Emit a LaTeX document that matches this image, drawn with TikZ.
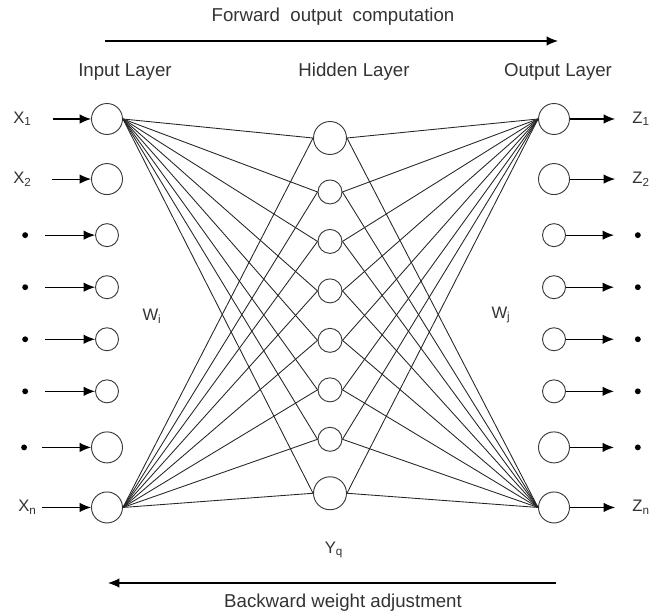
\documentclass[tikz,border=0pt]{standalone}
\usepackage{fontspec}
\setmainfont{Liberation Sans}
\usepackage{tikz}
\usetikzlibrary{arrows.meta,positioning}
\definecolor{neuEdge}{HTML}{3A3A3A}
\definecolor{wireCol}{HTML}{262626}
\tikzset{
  neuron/.style={draw=neuEdge, circle, line width=0.7pt, inner sep=0pt, minimum size=#1},
  bigneu/.style={neuron=23.25pt},
  smallneu/.style={neuron=17.25pt},
  hidbig/.style={neuron=24.75pt},
  hidsmall/.style={neuron=18pt},
  varlbl/.style={font=\fontsize{12.5}{14}\selectfont, inner sep=1pt, text=black!80},
  dotn/.style={circle, fill=black, inner sep=0pt, minimum size=4.4pt},
  ttl/.style={font=\fontsize{14}{16}\selectfont, inner sep=1pt, text=black!80},
  sig/.style={-{Latex[length=8.5pt,width=7pt]}, line width=0.8pt},
  wire/.style={line width=0.65pt, wireCol},
}

\begin{document}
\begin{tikzpicture}[x=0.75pt, y=-0.75pt, node distance=21.1pt]
  \useasboundingbox (0,0) rectangle (650,616);
  % input layer
  \node[bigneu] (in1) at (107,119) {};
  \node[bigneu, below=of in1] (in2) {};
  \node[smallneu, below=of in2] (in3) {};
  \node[smallneu, below=of in3] (in4) {};
  \node[smallneu, below=of in4] (in5) {};
  \node[smallneu, below=of in5] (in6) {};
  \node[bigneu, below=of in6] (in7) {};
  \node[bigneu, below=of in7] (in8) {};
  % hidden layer
  \node[hidbig] (h1) at (330,138) {};
  \node[hidsmall, below=18.4pt of h1] (h2) {};
  \node[hidsmall, below=18.4pt of h2] (h3) {};
  \node[hidsmall, below=18.4pt of h3] (h4) {};
  \node[hidsmall, below=18.4pt of h4] (h5) {};
  \node[hidsmall, below=18.4pt of h5] (h6) {};
  \node[hidsmall, below=18.4pt of h6] (h7) {};
  \node[hidbig, below=18.4pt of h7] (h8) {};
  % output layer
  \node[bigneu] (out1) at (554,119) {};
  \node[bigneu, below=of out1] (out2) {};
  \node[smallneu, below=of out2] (out3) {};
  \node[smallneu, below=of out3] (out4) {};
  \node[smallneu, below=of out4] (out5) {};
  \node[smallneu, below=of out5] (out6) {};
  \node[bigneu, below=of out6] (out7) {};
  \node[bigneu, below=of out7] (out8) {};
  % inputs
  \node[varlbl, left=43.4pt of in1] (x1) {X\textsubscript{1}};
  \node[varlbl, left=43.4pt of in2] (x2) {X\textsubscript{2}};
  \node[dotn, left=50pt of in3] (xd3) {};
  \node[dotn, left=50pt of in4] (xd4) {};
  \node[dotn, left=50pt of in5] (xd5) {};
  \node[dotn, left=50pt of in6] (xd6) {};
  \node[dotn, left=47.8pt of in7] (xd7) {};
  \node[varlbl, left=39.6pt of in8] (xn) {X\textsubscript{n}};
  \draw[sig, shorten <=14.8pt] (x1)--(in1); \draw[sig, shorten <=14pt] (x2)--(in2);
  \draw[sig, shorten <=12.4pt] (xd3)--(in3); \draw[sig, shorten <=12.4pt] (xd4)--(in4);
  \draw[sig, shorten <=12.4pt] (xd5)--(in5); \draw[sig, shorten <=12.4pt] (xd6)--(in6);
  \draw[sig, shorten <=11pt] (xd7)--(in7); \draw[sig, shorten <=2.8pt] (xn)--(in8);
  % outputs
  \node[varlbl, right=45.6pt of out1] (z1) {Z\textsubscript{1}};
  \node[varlbl, right=45.6pt of out2] (z2) {Z\textsubscript{2}};
  \node[dotn, right=51.5pt of out3] (zd3) {};
  \node[dotn, right=51.5pt of out4] (zd4) {};
  \node[dotn, right=51.5pt of out5] (zd5) {};
  \node[dotn, right=51.5pt of out6] (zd6) {};
  \node[dotn, right=48.5pt of out7] (zd7) {};
  \node[varlbl, right=45.6pt of out8] (zn) {Z\textsubscript{n}};
  \draw[sig, shorten >=11.8pt] (out1)--(z1); \draw[sig, shorten >=11.8pt] (out2)--(z2);
  \draw[sig, shorten >=15.5pt] (out3)--(zd3); \draw[sig, shorten >=15.5pt] (out4)--(zd4);
  \draw[sig, shorten >=15.5pt] (out5)--(zd5); \draw[sig, shorten >=15.5pt] (out6)--(zd6);
  \draw[sig, shorten >=15.5pt] (out7)--(zd7); \draw[sig, shorten >=11.8pt] (out8)--(zn);
  % input -> hidden weights
  \draw[wire] (in1.east)--(h1.west); \draw[wire] (in1.east)--(h2.west);
  \draw[wire] (in1.east)--(h3.west); \draw[wire] (in1.east)--(h4.west);
  \draw[wire] (in1.east)--(h5.west); \draw[wire] (in1.east)--(h6.west);
  \draw[wire] (in1.east)--(h7.west); \draw[wire] (in1.east)--(h8.west);
  \draw[wire] (in8.east)--(h1.west); \draw[wire] (in8.east)--(h2.west);
  \draw[wire] (in8.east)--(h3.west); \draw[wire] (in8.east)--(h4.west);
  \draw[wire] (in8.east)--(h5.west); \draw[wire] (in8.east)--(h6.west);
  \draw[wire] (in8.east)--(h7.west); \draw[wire] (in8.east)--(h8.west);
  % hidden -> output weights
  \draw[wire] (h1.east)--(out1.west); \draw[wire] (h2.east)--(out1.west);
  \draw[wire] (h3.east)--(out1.west); \draw[wire] (h4.east)--(out1.west);
  \draw[wire] (h5.east)--(out1.west); \draw[wire] (h6.east)--(out1.west);
  \draw[wire] (h7.east)--(out1.west); \draw[wire] (h8.east)--(out1.west);
  \draw[wire] (h1.east)--(out8.west); \draw[wire] (h2.east)--(out8.west);
  \draw[wire] (h3.east)--(out8.west); \draw[wire] (h4.east)--(out8.west);
  \draw[wire] (h5.east)--(out8.west); \draw[wire] (h6.east)--(out8.west);
  \draw[wire] (h7.east)--(out8.west); \draw[wire] (h8.east)--(out8.west);
  % labels
  \node[ttl] (tin) at (125,72) {Input Layer};
  \node[ttl] (thid) at (354,72) {Hidden Layer};
  \node[ttl] (tout) at (558,72) {Output Layer};
  \node[varlbl] (wi) at (152,316) {W\textsubscript{i}};
  \node[varlbl] (wj) at (501,315) {W\textsubscript{j}};
  \node[varlbl] (yq) at (334,550) {Y\textsubscript{q}};
  % forward / backward passes
  \node[ttl] (fwd) at (333,17) {Forward\ \ output\ \ computation};
  \coordinate (fs) at (105,41); \coordinate (fe) at (558,41);
  \draw[sig] (fs)--(fe);
  \coordinate (bs) at (556,583); \coordinate (be) at (108,583);
  \draw[sig] (bs)--(be);
  \node[ttl] (bwd) at (343,603) {Backward weight adjustment};
\end{tikzpicture}
\end{document}
